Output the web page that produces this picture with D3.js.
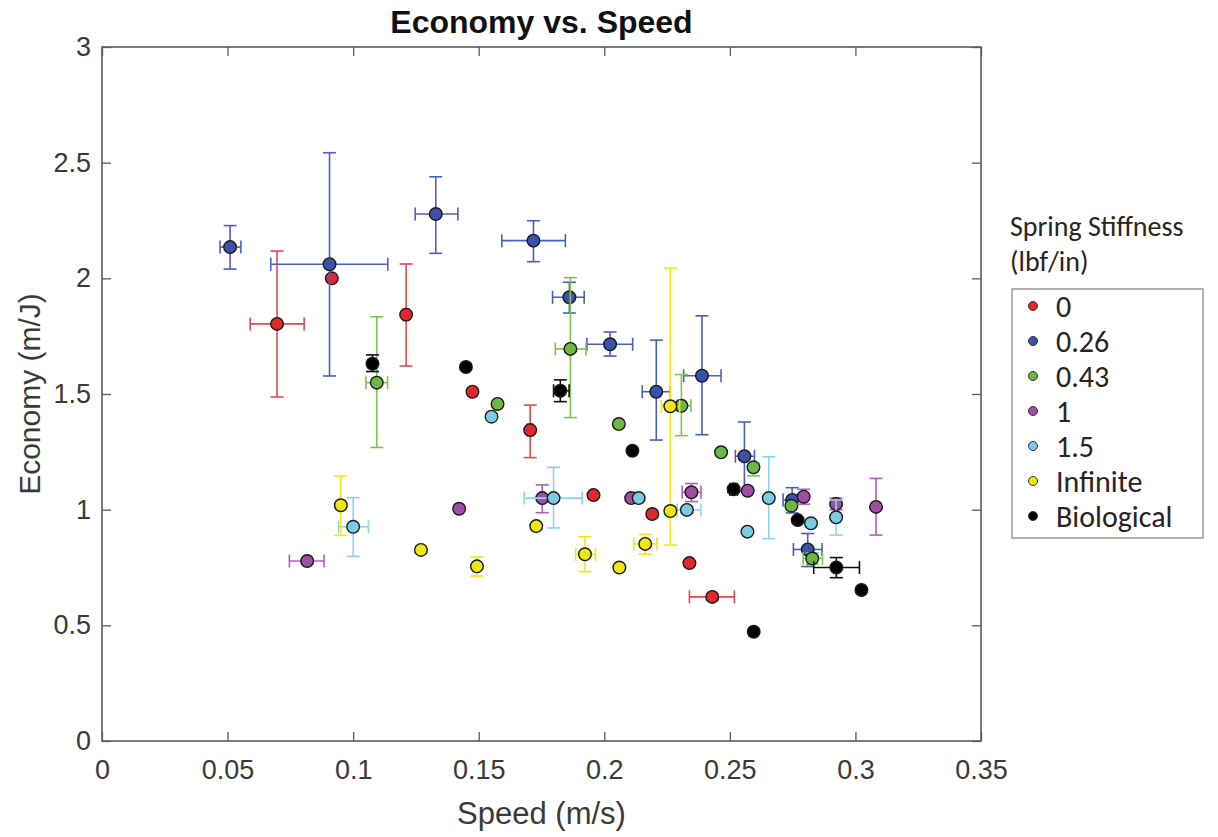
<!DOCTYPE html>
<html>
<head>
<meta charset="utf-8">
<script src="https://cdn.jsdelivr.net/npm/d3@7"></script>
<style>
  body { margin: 0; background: #fff; }
</style>
</head>
<body>
<div id="chart"></div>
<script>
// Data: [speed, economy, speedLo, speedHi, econLo, econHi] (error limits optional)
const stiff0 = [
  [0.0697, 1.803, 0.0590, 0.0805, 1.487, 2.118],
  [0.0915, 2.000],
  [0.1211, 1.843, 0.1199, 0.1223, 1.621, 2.062],
  [0.1475, 1.510],
  [0.1705, 1.344, 0.1693, 0.1717, 1.225, 1.452],
  [0.1957, 1.063],
  [0.2191, 0.981],
  [0.2339, 0.769],
  [0.2430, 0.623, 0.2339, 0.2518, 0.610, 0.636],
];
const stiff026 = [
  [0.0510, 2.135, 0.0470, 0.0553, 2.040, 2.228],
  [0.0906, 2.061, 0.0672, 0.1138, 1.578, 2.543],
  [0.1329, 2.278, 0.1247, 0.1417, 2.108, 2.439],
  [0.1718, 2.163, 0.1592, 0.1845, 2.072, 2.249],
  [0.1861, 1.918, 0.1794, 0.1920, 1.850, 1.983],
  [0.2023, 1.715, 0.1931, 0.2113, 1.664, 1.768],
  [0.2207, 1.510, 0.2151, 0.2263, 1.301, 1.733],
  [0.2389, 1.579, 0.2316, 0.2465, 1.324, 1.838],
  [0.2558, 1.231, 0.2522, 0.2598, 1.080, 1.379],
  [0.2748, 1.042, 0.2712, 0.2768, 0.986, 1.095],
  [0.2810, 0.828, 0.2753, 0.2867, 0.754, 0.897],
];
const stiff043 = [
  [0.1094, 1.549, 0.1051, 0.1137, 1.269, 1.834],
  [0.1575, 1.457],
  [0.1865, 1.695, 0.1805, 0.1927, 1.398, 2.003],
  [0.2058, 1.370],
  [0.2307, 1.449, 0.2290, 0.2345, 1.320, 1.584],
  [0.2465, 1.248],
  [0.2594, 1.183, 0.2588, 0.2600, 1.146, 1.200],
  [0.2745, 1.017],
  [0.2828, 0.789, 0.2792, 0.2869, 0.765, 0.813],
];
const stiff1 = [
  [0.0817, 0.778, 0.0746, 0.0884, 0.770, 0.786],
  [0.1422, 1.004],
  [0.1753, 1.050, 0.1745, 0.1761, 0.987, 1.107],
  [0.2107, 1.050],
  [0.2347, 1.075, 0.2310, 0.2385, 1.035, 1.113],
  [0.2571, 1.082],
  [0.2794, 1.056, 0.2785, 0.2803, 1.024, 1.088],
  [0.2923, 1.025, 0.2915, 0.2931, 1.000, 1.050],
  [0.3082, 1.012, 0.3082, 0.3082, 0.890, 1.135],
];
const stiff15 = [
  [0.1000, 0.926, 0.0942, 0.1061, 0.798, 1.052],
  [0.1551, 1.402],
  [0.1798, 1.050, 0.1681, 0.1912, 0.921, 1.183],
  [0.2137, 1.050],
  [0.2329, 0.999, 0.2290, 0.2385, 0.985, 1.013],
  [0.2570, 0.905],
  [0.2655, 1.050, 0.2645, 0.2665, 0.875, 1.229],
  [0.2823, 0.941],
  [0.2923, 0.967, 0.2915, 0.2931, 0.890, 1.042],
];
const stiffInf = [
  [0.0951, 1.019, 0.0940, 0.0962, 0.889, 1.146],
  [0.1270, 0.826],
  [0.1493, 0.755, 0.1493, 0.1493, 0.713, 0.795],
  [0.1729, 0.929],
  [0.1923, 0.807, 0.1886, 0.1965, 0.732, 0.883],
  [0.2060, 0.750],
  [0.2163, 0.852, 0.2117, 0.2210, 0.808, 0.893],
  [0.2263, 0.994],
  [0.2263, 1.447, 0.2227, 0.2300, 0.847, 2.045],
];
const biological = [
  [0.1077, 1.631, 0.1073, 0.1081, 1.597, 1.669],
  [0.1449, 1.617],
  [0.1825, 1.514, 0.1798, 0.1860, 1.467, 1.561],
  [0.2112, 1.255],
  [0.2515, 1.088, 0.2500, 0.2530, 1.075, 1.100],
  [0.2770, 0.955],
  [0.2924, 0.750, 0.2834, 0.3016, 0.706, 0.793],
  [0.3024, 0.653],
  [0.2595, 0.472],
];

const SERIES = [stiff0, stiff026, stiff043, stiff1, stiff15, stiffInf, biological];
const LEGEND_LABELS = ["0", "0.26", "0.43", "1", "1.5", "Infinite", "Biological"];
const FILL_COLORS = ["#e0282e", "#3b52a8", "#6cb844", "#9e4fa2", "#7ccbe3", "#efe615", "#000000"];
const BAR_COLORS = ["#e24a4e", "#4b5fc0", "#80c552", "#b25db6", "#8fd4ef", "#f0e912", "#111111"];
const X_TICKS = [0, 0.05, 0.1, 0.15, 0.2, 0.25, 0.3, 0.35];
const Y_TICKS = [0, 0.5, 1, 1.5, 2, 2.5, 3];

const W = 1218, H = 837;
const margin = { left: 102, top: 47, right: W - 981, bottom: H - 741 };
const innerW = W - margin.left - margin.right;
const innerH = H - margin.top - margin.bottom;
const AXIS_COLOR = "#5c5c5c";
const TEXT_COLOR = "#3a3a3a";
const CAP = 6.5;
const R = 6.3;

const svg = d3.select("#chart").append("svg")
  .attr("width", W).attr("height", H)
  .style("font-family", "'Liberation Sans', Arial, sans-serif");

const x = d3.scaleLinear().domain([0, 0.35]).range([margin.left, margin.left + innerW]);
const y = d3.scaleLinear().domain([0, 3]).range([margin.top + innerH, margin.top]);

// Axes (ticks inside, box on all sides)
const axes = svg.append("g").attr("class", "axes");
const fmt = d3.format("~g");
const styleAxis = (g) => {
  g.select(".domain").remove();
  g.selectAll(".tick line").attr("stroke", AXIS_COLOR).attr("stroke-width", 1.3);
  g.selectAll(".tick text").attr("fill", TEXT_COLOR).attr("font-size", 27);
};
axes.append("g")
  .attr("transform", `translate(0,${y(0)})`)
  .call(d3.axisBottom(x).tickValues(X_TICKS).tickFormat(fmt).tickSizeInner(-9).tickPadding(19))
  .call(styleAxis);
axes.append("g")
  .attr("transform", `translate(0,${y(3)})`)
  .call(d3.axisTop(x).tickValues(X_TICKS).tickFormat("").tickSizeInner(-9))
  .call(styleAxis);
axes.append("g")
  .attr("transform", `translate(${x(0)},0)`)
  .call(d3.axisLeft(y).tickValues(Y_TICKS).tickFormat(fmt).tickSizeInner(-9).tickPadding(11))
  .call(styleAxis);
axes.append("g")
  .attr("transform", `translate(${x(0.35)},0)`)
  .call(d3.axisRight(y).tickValues(Y_TICKS).tickFormat("").tickSizeInner(-9))
  .call(styleAxis);
axes.append("rect")
  .attr("x", x(0)).attr("y", y(3))
  .attr("width", x(0.35) - x(0)).attr("height", y(0) - y(3))
  .attr("fill", "none").attr("stroke", AXIS_COLOR).attr("stroke-width", 1.6);

// Error bars and markers, series by series
SERIES.forEach((rows, si) => {
  const g = svg.append("g").attr("class", "series-" + si);
  const bars = g.append("g")
    .attr("stroke", BAR_COLORS[si]).attr("stroke-width", 1.6).attr("fill", "none");
  rows.filter((d) => d.length > 2).forEach((d) => {
    const [sx, ey, xlo, xhi, ylo, yhi] = d;
    const cx = x(sx), cy = y(ey);
    // vertical
    bars.append("line").attr("x1", cx).attr("x2", cx).attr("y1", y(ylo)).attr("y2", y(yhi));
    bars.append("line").attr("x1", cx - CAP).attr("x2", cx + CAP).attr("y1", y(ylo)).attr("y2", y(ylo));
    bars.append("line").attr("x1", cx - CAP).attr("x2", cx + CAP).attr("y1", y(yhi)).attr("y2", y(yhi));
    // horizontal
    if (xhi > xlo) {
      bars.append("line").attr("x1", x(xlo)).attr("x2", x(xhi)).attr("y1", cy).attr("y2", cy);
      bars.append("line").attr("x1", x(xlo)).attr("x2", x(xlo)).attr("y1", cy - CAP).attr("y2", cy + CAP);
      bars.append("line").attr("x1", x(xhi)).attr("x2", x(xhi)).attr("y1", cy - CAP).attr("y2", cy + CAP);
    }
  });
  g.selectAll("circle")
    .data(rows)
    .enter()
    .append("circle")
    .attr("cx", (d) => x(d[0]))
    .attr("cy", (d) => y(d[1]))
    .attr("r", R)
    .attr("fill", FILL_COLORS[si])
    .attr("stroke", "#1a1a1a")
    .attr("stroke-width", 1.4);
});

// Title and axis labels
svg.append("text")
  .attr("x", (x(0) + x(0.35)) / 2).attr("y", 33)
  .attr("text-anchor", "middle").attr("font-size", 32).attr("font-weight", "bold")
  .attr("fill", "#111")
  .text("Economy vs. Speed");
svg.append("text")
  .attr("x", (x(0) + x(0.35)) / 2).attr("y", 824)
  .attr("text-anchor", "middle").attr("font-size", 31).attr("fill", TEXT_COLOR)
  .text("Speed (m/s)");
svg.append("text")
  .attr("transform", `translate(40,${(y(0) + y(3)) / 2}) rotate(-90)`)
  .attr("text-anchor", "middle").attr("font-size", 30).attr("fill", TEXT_COLOR)
  .text("Economy (m/J)");

// Legend
const legend = svg.append("g")
  .style("font-family", "Carlito, 'Open Sans', 'Noto Sans', sans-serif")
  .attr("fill", "#2a2420");
legend.append("text").attr("x", 1010).attr("y", 236).attr("font-size", 28).text("Spring Stiffness");
legend.append("text").attr("x", 1010).attr("y", 271).attr("font-size", 28).text("(lbf/in)");
legend.append("rect")
  .attr("x", 1012).attr("y", 289).attr("width", 191).attr("height", 249)
  .attr("fill", "#fff").attr("stroke", "#9a9a9a").attr("stroke-width", 1.5);
const item = legend.selectAll(".item")
  .data(LEGEND_LABELS)
  .enter()
  .append("g")
  .attr("class", "item")
  .attr("transform", (d, i) => `translate(0,${306 + i * 35})`);
item.append("circle")
  .attr("cx", 1033).attr("cy", 0).attr("r", 4.5)
  .attr("fill", (d, i) => FILL_COLORS[i])
  .attr("stroke", "#333").attr("stroke-width", 1);
item.append("text")
  .attr("x", 1056).attr("y", 0).attr("dy", "0.36em")
  .attr("font-size", 30)
  .text((d) => d);
</script>
</body>
</html>
